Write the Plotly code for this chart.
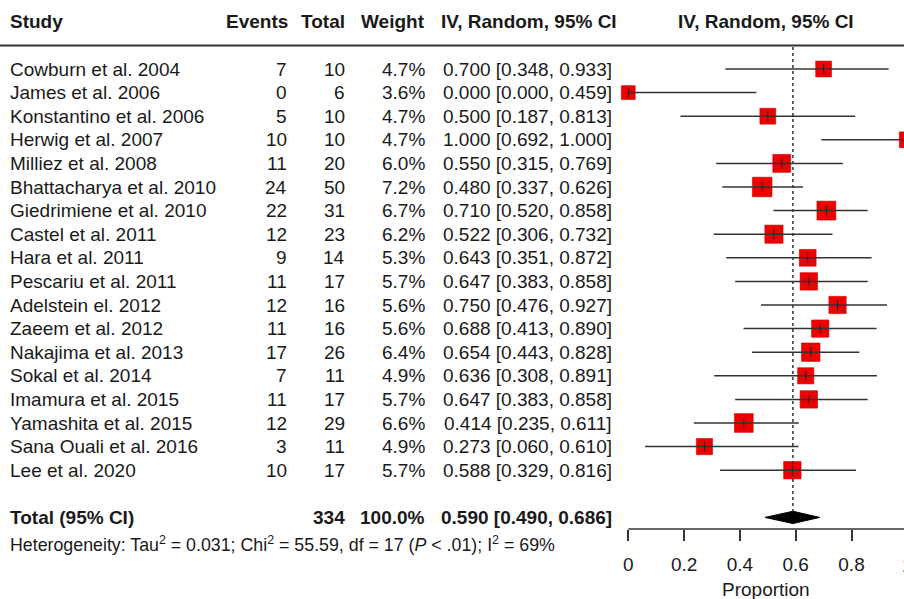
import plotly.graph_objects as go
import math

studies = ["Cowburn et al. 2004", "James et al. 2006", "Konstantino et al. 2006", "Herwig et al. 2007",
           "Milliez et al. 2008", "Bhattacharya et al. 2010", "Giedrimiene et al. 2010", "Castel et al. 2011",
           "Hara et al. 2011", "Pescariu et al. 2011", "Adelstein el. 2012", "Zaeem et al. 2012",
           "Nakajima et al. 2013", "Sokal et al. 2014", "Imamura et al. 2015", "Yamashita et al. 2015",
           "Sana Ouali et al. 2016", "Lee et al. 2020"]
events = [7, 0, 5, 10, 11, 24, 22, 12, 9, 11, 12, 11, 17, 7, 11, 12, 3, 10]
totals = [10, 6, 10, 10, 20, 50, 31, 23, 14, 17, 16, 16, 26, 11, 17, 29, 11, 17]
weights = [4.7, 3.6, 4.7, 4.7, 6.0, 7.2, 6.7, 6.2, 5.3, 5.7, 5.6, 5.6, 6.4, 4.9, 5.7, 6.6, 4.9, 5.7]
est = [0.700, 0.000, 0.500, 1.000, 0.550, 0.480, 0.710, 0.522, 0.643, 0.647, 0.750, 0.688, 0.654, 0.636,
       0.647, 0.414, 0.273, 0.588]
lo = [0.348, 0.000, 0.187, 0.692, 0.315, 0.337, 0.520, 0.306, 0.351, 0.383, 0.476, 0.413, 0.443, 0.308,
      0.383, 0.235, 0.060, 0.329]
hi = [0.933, 0.459, 0.813, 1.000, 0.769, 0.626, 0.858, 0.732, 0.872, 0.858, 0.927, 0.890, 0.828, 0.891,
      0.858, 0.611, 0.610, 0.816]
pooled = {"est": 0.590, "lo": 0.490, "hi": 0.686, "weight": "100.0%"}
het_text = ("Heterogeneity: Tau<sup>2</sup> = 0.031; Chi<sup>2</sup> = 55.59, df = 17 "
            "(<i>P</i> < .01); I<sup>2</sup> = 69%")
tick_vals = [0, 0.2, 0.4, 0.6, 0.8, 1]
tick_text = ["0", "0.2", "0.4", "0.6", "0.8", "1"]
x_label = "Proportion"

W, H = 904, 599
FONT = "Liberation Sans, Arial, sans-serif"
FS = 19
TXT = "#1a1a1a"

rows = list(range(len(studies)))
total_row = len(studies) + 1
header_row = -2

# layout geometry (figure pixels)
plot_left_px = 600         # left edge of the plot area (room for squares at 0)
x0_px = 628.3              # where proportion 0 sits
scale = 279.0              # px per unit proportion
row0_px = 69
row_h = 23.6
axis_px = 529

fig = go.Figure()

# squares (clipped to plot area, like the reference's cut-off edge)
fig.add_trace(go.Scatter(
    x=est, y=rows, mode="markers",
    marker=dict(symbol="square", size=[7.3 * math.sqrt(w) for w in weights], color="#ee0000",
                opacity=1, line=dict(width=0.6, color="#cc0000")),
    cliponaxis=True, hoverinfo="skip"))

# CI lines
cx, cy = [], []
for i in rows:
    cx += [lo[i], hi[i], None]
    cy += [i, i, None]
fig.add_trace(go.Scatter(x=cx, y=cy, mode="lines", line=dict(color="#333333", width=1.5),
                         cliponaxis=True, hoverinfo="skip"))
# estimate ticks
fig.add_trace(go.Scatter(x=est, y=rows, mode="markers",
                         marker=dict(symbol="line-ns", size=7, opacity=1,
                                     line=dict(width=1, color="#222")),
                         cliponaxis=True, hoverinfo="skip"))

# diamond
h = 0.26
fig.add_trace(go.Scatter(
    x=[pooled["lo"], pooled["est"], pooled["hi"], pooled["est"], pooled["lo"]],
    y=[total_row, total_row - h, total_row, total_row + h, total_row],
    mode="lines", fill="toself", fillcolor="#000000", line=dict(color="#000000", width=1),
    hoverinfo="skip"))

shapes = [
    dict(type="line", xref="paper", x0=0, x1=1, yref="y", y0=-1, y1=-1,
         line=dict(color="#333333", width=2)),
    dict(type="line", xref="x", x0=pooled["est"], x1=pooled["est"], yref="y", y0=-0.93,
         y1=total_row - h, line=dict(color="#333333", width=1.5, dash="dot")),
    # x axis line from 0 to 1
    dict(type="line", xref="x", x0=tick_vals[0], x1=tick_vals[-1], yref="paper", y0=0, y1=0,
         line=dict(color="#333333", width=1.5)),
]

ann = []
def add(text, x, y, anchor, bold=False, size=FS, yref="y"):
    t = f"<b>{text}</b>" if bold else text
    pad = {"left": -2, "right": 2, "center": 0}[anchor]
    ann.append(dict(text=t, x=(x + pad) / W, xref="paper", y=y, yref=yref, xanchor=anchor,
                    yanchor="middle", showarrow=False,
                    font=dict(family=FONT, size=size, color=TXT)))

# headers
add("Study", 10, header_row, "left", True)
add("Events", 288, header_row, "right", True)
add("Total", 345, header_row, "right", True)
add("Weight", 425, header_row, "right", True)
add("IV, Random, 95% CI", 617, header_row, "right", True)
add("IV, Random, 95% CI", 766, header_row, "center", True)

for i in rows:
    add(studies[i], 10, i, "left")
    add(str(events[i]), 287, i, "right")
    add(str(totals[i]), 345, i, "right")
    add(f"{weights[i]:.1f}%", 425, i, "right")
    add(f"{est[i]:.3f} [{lo[i]:.3f}, {hi[i]:.3f}]", 612, i, "right")

add("Total (95% CI)", 10, total_row, "left", True)
add(str(sum(totals)), 345, total_row, "right", True)
add(pooled["weight"], 425, total_row, "right", True)
add(f"{pooled['est']:.3f} [{pooled['lo']:.3f}, {pooled['hi']:.3f}]", 612, total_row, "right", True)
add(het_text, 10, (axis_px - 544) / axis_px, "left", size=17.8, yref="paper")

# the last tick label sits past the right edge of the page (cut off, as in the reference)
last_tick_px = x0_px + tick_vals[-1] * scale
ann.append(dict(text=tick_text[-1], x=last_tick_px / W, xref="paper", y=(axis_px - 565) / axis_px,
                yref="paper", xanchor="center", yanchor="middle", showarrow=False,
                font=dict(family=FONT, size=FS, color=TXT)))
# axis title centred under the 0..1 scale region visible on the page
ann.append(dict(text=x_label, x=(x0_px + W) / 2 / W, xref="paper", y=(axis_px - 589) / axis_px,
                yref="paper", xanchor="center", yanchor="middle", showarrow=False,
                font=dict(family=FONT, size=FS, color=TXT)))

x_range = [-(x0_px - plot_left_px) / scale, (W - x0_px) / scale]
y_range = [(axis_px - row0_px) / row_h, -row0_px / row_h]

fig.update_layout(
    width=W, height=H,
    margin=dict(l=0, r=0, t=0, b=H - axis_px),
    paper_bgcolor="white", plot_bgcolor="white",
    showlegend=False,
    shapes=shapes, annotations=ann,
    xaxis=dict(domain=[plot_left_px / W, 1], range=x_range, tickvals=tick_vals, ticktext=tick_text,
               automargin=False,
               showgrid=False, zeroline=False, showline=False,
               ticks="outside", ticklen=11, tickwidth=1.5, tickcolor="#333333",
               ticklabeloverflow="allow", ticklabelstandoff=7,
               tickfont=dict(family=FONT, size=FS, color=TXT)),
    yaxis=dict(range=y_range, visible=False, showgrid=False, zeroline=False, automargin=False),
)

fig.write_html("out.html", config={"displayModeBar": False},
               post_script="document.body.style.margin='0px';document.body.style.overflow='hidden';")
